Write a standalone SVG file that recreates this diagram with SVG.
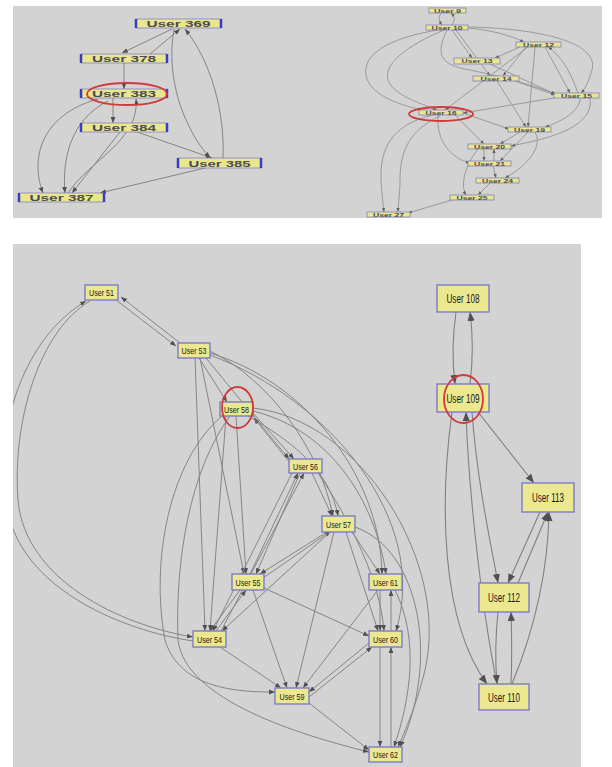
<svg xmlns="http://www.w3.org/2000/svg" width="612" height="767" viewBox="0 0 612 767">
<style>
.panel{fill:#d3d3d3}
.e{fill:none;stroke:#858585;stroke-width:1}
.et{fill:none;stroke:#8c8c8c;stroke-width:0.8}
.eb{fill:none;stroke:#808080;stroke-width:1.1}
.n{fill:#e9e68e;stroke:#8080c0;stroke-width:0.8}
.side{stroke:#3a3ac8;stroke-width:2.5}
.nb{fill:#ebe890;stroke:#7c7cc8;stroke-width:1.4}
.tl{font-family:"Liberation Sans",Arial,sans-serif;font-size:9px;font-weight:bold;fill:#4a4a5a;text-anchor:middle}
.tr{font-family:"Liberation Sans",Arial,sans-serif;font-size:5px;font-weight:bold;fill:#4a4a5a;text-anchor:middle}
.tb{font-family:"Liberation Sans",Arial,sans-serif;font-size:9px;fill:#1a1a1a;text-anchor:middle}
.tB{font-family:"Liberation Sans",Arial,sans-serif;font-size:12px;fill:#1a1a1a;text-anchor:middle}
.red{fill:none;stroke:#d03a3a;stroke-width:1.8}
</style>
<defs>
<marker id="a" viewBox="0 0 10 10" refX="10" refY="5" markerWidth="6" markerHeight="6" markerUnits="userSpaceOnUse" orient="auto"><path d="M0,1 L10,5 L0,9z" fill="#505050"/></marker>
<marker id="s" viewBox="0 0 10 10" refX="10" refY="5" markerWidth="4" markerHeight="4" markerUnits="userSpaceOnUse" orient="auto"><path d="M0,1 L10,5 L0,9z" fill="#606060"/></marker>
<marker id="b" viewBox="0 0 10 10" refX="10" refY="5" markerWidth="9" markerHeight="9" markerUnits="userSpaceOnUse" orient="auto"><path d="M0,1 L10,5 L0,9z" fill="#505050"/></marker>
<clipPath id="cb"><rect x="13" y="244" width="568" height="523"/></clipPath>
<clipPath id="ct"><rect x="13" y="6" width="589" height="212"/></clipPath>
</defs>
<rect width="612" height="767" fill="#ffffff"/>
<rect class="panel" x="13" y="6" width="589" height="212"/>
<rect class="panel" x="13" y="244" width="568" height="523"/>

<!-- top-left connectors -->
<g id="connectors-topleft" clip-path="url(#ct)">
<path class="e" marker-end="url(#a)" d="M172,29 L122,53"/>
<path class="e" marker-end="url(#a)" d="M150,54 L180,29"/>
<path class="e" marker-end="url(#a)" d="M124,63 L124,89"/>
<path class="e" marker-end="url(#a)" d="M113,98 L113,123"/>
<path class="e" marker-end="url(#a)" d="M68,193 C 90,160 140,140 136,99"/>
<path class="e" marker-end="url(#a)" d="M98,99 C 40,115 30,160 43,193"/>
<path class="e" marker-end="url(#a)" d="M108,101 C 70,120 62,160 65,193"/>
<path class="e" marker-end="url(#a)" d="M120,132 L72,193"/>
<path class="e" marker-end="url(#a)" d="M137,132 L212,158"/>
<path class="e" marker-end="url(#a)" d="M205,168 L100,193"/>
<path class="e" marker-end="url(#a)" d="M174,29 C 165,80 185,130 210,158"/>
<path class="e" marker-end="url(#a)" d="M223,158 C 225,110 210,60 185,29"/>
</g>

<!-- top-right connectors -->
<g id="connectors-topright" clip-path="url(#ct)">
<path class="et" marker-end="url(#s)" d="M441,13 C 438,18 439,21 442,25"/>
<path class="et" marker-end="url(#s)" d="M452,25 C 455,20 455,17 451,13"/>
<path class="et" marker-end="url(#s)" d="M438,30 C 400,36 362,50 366,75 C 369,95 400,105 422,110"/>
<path class="et" marker-end="url(#s)" d="M444,30 C 420,40 382,60 388,80 C 393,95 420,103 437,110"/>
<path class="et" marker-end="url(#s)" d="M452,30 L472,58"/>
<path class="et" marker-end="url(#s)" d="M456,30 L490,76"/>
<path class="et" marker-end="url(#s)" d="M468,28 C 490,30 510,35 524,42"/>
<path class="et" marker-end="url(#s)" d="M468,27 C 530,28 600,40 592,70 C 588,84 584,90 581,93"/>
<path class="et" marker-end="url(#s)" d="M447,30 C 435,55 440,65 470,70 C 510,78 540,88 556,94"/>
<path class="et" marker-end="url(#s)" d="M520,47 L495,58"/>
<path class="et" marker-end="url(#s)" d="M526,47 L503,76"/>
<path class="et" marker-end="url(#s)" d="M528,47 L445,110"/>
<path class="et" marker-end="url(#s)" d="M535,47 L528,127"/>
<path class="et" marker-end="url(#s)" d="M545,47 L570,93"/>
<path class="et" marker-end="url(#s)" d="M578,93 C 570,70 560,55 548,47"/>
<path class="et" marker-end="url(#s)" d="M490,64 L555,94"/>
<path class="et" marker-end="url(#s)" d="M515,81 L555,95"/>
<path class="et" marker-end="url(#s)" d="M497,81 L526,127"/>
<path class="et" marker-end="url(#s)" d="M554,98 L463,113"/>
<path class="et" marker-end="url(#s)" d="M580,98 C 580,112 560,122 545,127"/>
<path class="et" marker-end="url(#s)" d="M590,98 C 595,130 540,140 511,146"/>
<path class="et" marker-end="url(#s)" d="M463,113 L509,129"/>
<path class="et" marker-end="url(#s)" d="M455,115 L484,144"/>
<path class="et" marker-end="url(#s)" d="M438,115 C 436,140 450,158 470,163"/>
<path class="et" marker-end="url(#s)" d="M433,115 C 390,125 380,150 381,180 C 382,195 383,205 384,212"/>
<path class="et" marker-end="url(#s)" d="M440,116 C 410,130 400,150 400,180 C 400,195 398,205 398,212"/>
<path class="et" marker-end="url(#s)" d="M520,132 L500,144"/>
<path class="et" marker-end="url(#s)" d="M528,132 L500,161"/>
<path class="et" marker-end="url(#s)" d="M535,132 C 545,150 520,170 505,178"/>
<path class="et" marker-end="url(#s)" d="M484,149 L484,161"/>
<path class="et" marker-end="url(#s)" d="M494,161 L494,149"/>
<path class="et" marker-end="url(#s)" d="M493,166 L496,178"/>
<path class="et" marker-end="url(#s)" d="M478,149 C 465,165 460,185 466,195"/>
<path class="et" marker-end="url(#s)" d="M490,183 L478,195"/>
<path class="et" marker-end="url(#s)" d="M452,200 L408,213"/>
</g>

<!-- bottom connectors -->
<g id="connectors-bottom" clip-path="url(#cb)">
<path class="e" marker-end="url(#a)" d="M116,300 L176,346"/>
<path class="e" marker-end="url(#a)" d="M180,343 L121,297"/>
<path class="e" marker-end="url(#a)" d="M193,641 C 120,630 30,590 10,520 C -10,440 20,340 86,301"/>
<path class="e" marker-end="url(#a)" d="M90,301 C 40,330 12,420 18,500 C 25,580 120,625 193,637"/>
<path class="e" marker-end="url(#a)" d="M199,358 L227,402"/>
<path class="e" marker-end="url(#a)" d="M195,358 L205,631"/>
<path class="e" marker-end="url(#a)" d="M200,358 L244,574"/>
<path class="e" marker-end="url(#a)" d="M206,358 L289,459"/>
<path class="e" marker-end="url(#a)" d="M253,413 L294,459"/>
<path class="e" marker-end="url(#a)" d="M290,463 L254,418"/>
<path class="e" marker-end="url(#a)" d="M210,351 C 270,380 320,450 333,516"/>
<path class="e" marker-end="url(#a)" d="M210,353 C 300,380 380,470 382,574"/>
<path class="e" marker-end="url(#a)" d="M210,355 C 330,400 430,520 396,631"/>
<path class="e" marker-end="url(#a)" d="M253,408 C 360,420 450,560 425,670 C 415,710 405,730 398,747"/>
<path class="e" marker-end="url(#a)" d="M253,411 C 330,430 375,500 386,574"/>
<path class="e" marker-end="url(#a)" d="M248,416 C 290,440 330,470 338,516"/>
<path class="e" marker-end="url(#a)" d="M226,416 L210,631"/>
<path class="e" marker-end="url(#a)" d="M236,416 L246,574"/>
<path class="e" marker-end="url(#a)" d="M222,416 C 170,460 150,560 165,640 C 180,690 240,692 275,692"/>
<path class="e" marker-end="url(#a)" d="M230,416 C 190,470 175,560 178,640 C 185,700 300,735 369,752"/>
<path class="e" marker-end="url(#a)" d="M300,473 L256,574"/>
<path class="e" marker-end="url(#a)" d="M292,473 L213,631"/>
<path class="e" marker-end="url(#a)" d="M250,574 L298,473"/>
<path class="e" marker-end="url(#a)" d="M221,631 L304,473"/>
<path class="e" marker-end="url(#a)" d="M312,473 L332,516"/>
<path class="e" marker-end="url(#a)" d="M318,473 C 350,520 380,580 384,631"/>
<path class="e" marker-end="url(#a)" d="M327,532 L260,574"/>
<path class="e" marker-end="url(#a)" d="M263,578 L331,531"/>
<path class="e" marker-end="url(#a)" d="M330,532 L222,631"/>
<path class="e" marker-end="url(#a)" d="M352,532 L380,574"/>
<path class="e" marker-end="url(#a)" d="M346,532 L378,631"/>
<path class="e" marker-end="url(#a)" d="M334,532 L296,688"/>
<path class="e" marker-end="url(#a)" d="M355,527 C 420,550 440,660 400,747"/>
<path class="e" marker-end="url(#a)" d="M240,590 L210,631"/>
<path class="e" marker-end="url(#a)" d="M216,631 L246,590"/>
<path class="e" marker-end="url(#a)" d="M264,588 L369,636"/>
<path class="e" marker-end="url(#a)" d="M253,590 L287,688"/>
<path class="e" marker-end="url(#a)" d="M220,647 L281,688"/>
<path class="e" marker-end="url(#a)" d="M378,590 L303,688"/>
<path class="e" marker-end="url(#a)" d="M369,643 L309,692"/>
<path class="e" marker-end="url(#a)" d="M309,697 L372,647"/>
<path class="e" marker-end="url(#a)" d="M380,590 L380,631"/>
<path class="e" marker-end="url(#a)" d="M391,631 L391,590"/>
<path class="e" marker-end="url(#a)" d="M380,647 L380,747"/>
<path class="e" marker-end="url(#a)" d="M391,747 L391,647"/>
<path class="e" marker-end="url(#a)" d="M395,590 C 420,640 410,700 394,747"/>
<path class="e" marker-end="url(#a)" d="M309,703 L369,750"/>
<!-- right cluster -->
<path class="eb" marker-end="url(#b)" d="M456,312 C 452,340 452,360 455,384"/>
<path class="eb" marker-end="url(#b)" d="M470,384 C 473,360 473,335 470,312"/>
<path class="eb" marker-end="url(#b)" d="M478,412 L534,483"/>
<path class="eb" marker-end="url(#b)" d="M452,412 C 440,500 440,620 487,684"/>
<path class="eb" marker-end="url(#b)" d="M472,412 C 477,480 490,540 498,583"/>
<path class="eb" marker-end="url(#b)" d="M497,684 C 480,600 468,480 466,412"/>
<path class="eb" marker-end="url(#b)" d="M540,512 L508,583"/>
<path class="eb" marker-end="url(#b)" d="M518,583 L548,512"/>
<path class="eb" marker-end="url(#b)" d="M512,684 C 530,640 548,580 549,512"/>
<path class="eb" marker-end="url(#b)" d="M498,612 C 495,640 495,660 497,684"/>
<path class="eb" marker-end="url(#b)" d="M511,684 C 512,660 512,640 511,612"/>
</g>

<!-- top-left nodes -->
<g id="n369"><rect class="n" x="136" y="19" width="85" height="9"/><line class="side" x1="136" y1="19" x2="136" y2="28"/><line class="side" x1="221" y1="19" x2="221" y2="28"/><text class="tl" x="178.5" y="27" textLength="64" lengthAdjust="spacingAndGlyphs">User 369</text></g>
<g id="n378"><rect class="n" x="81" y="54" width="86" height="9"/><line class="side" x1="81" y1="54" x2="81" y2="63"/><line class="side" x1="167" y1="54" x2="167" y2="63"/><text class="tl" x="124" y="62" textLength="64" lengthAdjust="spacingAndGlyphs">User 378</text></g>
<g id="n383"><rect class="n" x="81" y="89" width="86" height="9"/><line class="side" x1="81" y1="89" x2="81" y2="98"/><line class="side" x1="167" y1="89" x2="167" y2="98"/><text class="tl" x="124" y="97" textLength="64" lengthAdjust="spacingAndGlyphs">User 383</text><ellipse class="red" cx="127" cy="94" rx="40" ry="11"/></g>
<g id="n384"><rect class="n" x="81" y="123" width="86" height="9"/><line class="side" x1="81" y1="123" x2="81" y2="132"/><line class="side" x1="167" y1="123" x2="167" y2="132"/><text class="tl" x="124" y="131" textLength="64" lengthAdjust="spacingAndGlyphs">User 384</text></g>
<g id="n385"><rect class="n" x="178" y="158" width="83" height="10"/><line class="side" x1="178" y1="158" x2="178" y2="168"/><line class="side" x1="261" y1="158" x2="261" y2="168"/><text class="tl" x="219.5" y="166.5" textLength="62" lengthAdjust="spacingAndGlyphs">User 385</text></g>
<g id="n387"><rect class="n" x="19" y="193" width="85" height="9"/><line class="side" x1="19" y1="193" x2="19" y2="202"/><line class="side" x1="104" y1="193" x2="104" y2="202"/><text class="tl" x="61.5" y="201" textLength="64" lengthAdjust="spacingAndGlyphs">User 387</text></g>

<!-- top-right nodes -->
<g id="n9"><rect class="n" x="429" y="8" width="37" height="5"/><text class="tr" x="447.5" y="12.5" textLength="27" lengthAdjust="spacingAndGlyphs">User 9</text></g>
<g id="n10"><rect class="n" x="426" y="25" width="42" height="5"/><text class="tr" x="447" y="29.5" textLength="31" lengthAdjust="spacingAndGlyphs">User 10</text></g>
<g id="n12"><rect class="n" x="516" y="42" width="45" height="5"/><text class="tr" x="538.5" y="46.5" textLength="31" lengthAdjust="spacingAndGlyphs">User 12</text></g>
<g id="n13"><rect class="n" x="454" y="58" width="46" height="6"/><text class="tr" x="477" y="63" textLength="31" lengthAdjust="spacingAndGlyphs">User 13</text></g>
<g id="n14"><rect class="n" x="473" y="76" width="46" height="5"/><text class="tr" x="496" y="80.5" textLength="31" lengthAdjust="spacingAndGlyphs">User 14</text></g>
<g id="n15"><rect class="n" x="554" y="93" width="45" height="5"/><text class="tr" x="576.5" y="97.5" textLength="31" lengthAdjust="spacingAndGlyphs">User 15</text></g>
<g id="n16"><rect class="n" x="419" y="110" width="44" height="5"/><text class="tr" x="441" y="114.5" textLength="31" lengthAdjust="spacingAndGlyphs">User 16</text><ellipse class="red" cx="441" cy="114" rx="32" ry="7"/></g>
<g id="n19"><rect class="n" x="508" y="127" width="43" height="5"/><text class="tr" x="529.5" y="131.5" textLength="31" lengthAdjust="spacingAndGlyphs">User 19</text></g>
<g id="n20"><rect class="n" x="468" y="144" width="43" height="5"/><text class="tr" x="489.5" y="148.5" textLength="31" lengthAdjust="spacingAndGlyphs">User 20</text></g>
<g id="n21"><rect class="n" x="468" y="161" width="43" height="5"/><text class="tr" x="489.5" y="165.5" textLength="31" lengthAdjust="spacingAndGlyphs">User 21</text></g>
<g id="n24"><rect class="n" x="476" y="178" width="43" height="5"/><text class="tr" x="497.5" y="182.5" textLength="31" lengthAdjust="spacingAndGlyphs">User 24</text></g>
<g id="n25"><rect class="n" x="450" y="195" width="44" height="5"/><text class="tr" x="472" y="199.5" textLength="31" lengthAdjust="spacingAndGlyphs">User 25</text></g>
<g id="n27"><rect class="n" x="367" y="212" width="43" height="5"/><text class="tr" x="388.5" y="216.5" textLength="31" lengthAdjust="spacingAndGlyphs">User 27</text></g>

<!-- bottom-left nodes -->
<g id="n51"><rect class="nb" x="85" y="285" width="33" height="15"/><text class="tb" x="101.5" y="296" textLength="25" lengthAdjust="spacingAndGlyphs">User 51</text></g>
<g id="n53"><rect class="nb" x="178" y="343" width="32" height="15"/><text class="tb" x="194" y="354" textLength="25" lengthAdjust="spacingAndGlyphs">User 53</text></g>
<g id="n58"><rect class="nb" x="220" y="402" width="33" height="14"/><text class="tb" x="236.5" y="412.5" textLength="25" lengthAdjust="spacingAndGlyphs">User 58</text><ellipse class="red" cx="237.5" cy="407.5" rx="15.5" ry="20.5"/></g>
<g id="n56"><rect class="nb" x="289" y="459" width="33" height="14"/><text class="tb" x="305.5" y="469.5" textLength="25" lengthAdjust="spacingAndGlyphs">User 56</text></g>
<g id="n57"><rect class="nb" x="322" y="516" width="33" height="16"/><text class="tb" x="338.5" y="527.5" textLength="25" lengthAdjust="spacingAndGlyphs">User 57</text></g>
<g id="n55"><rect class="nb" x="232" y="574" width="32" height="16"/><text class="tb" x="248" y="585.5" textLength="25" lengthAdjust="spacingAndGlyphs">User 55</text></g>
<g id="n61"><rect class="nb" x="369" y="574" width="33" height="16"/><text class="tb" x="385.5" y="585.5" textLength="25" lengthAdjust="spacingAndGlyphs">User 61</text></g>
<g id="n54"><rect class="nb" x="193" y="631" width="33" height="16"/><text class="tb" x="209.5" y="642.5" textLength="25" lengthAdjust="spacingAndGlyphs">User 54</text></g>
<g id="n60"><rect class="nb" x="369" y="631" width="33" height="16"/><text class="tb" x="385.5" y="642.5" textLength="25" lengthAdjust="spacingAndGlyphs">User 60</text></g>
<g id="n59"><rect class="nb" x="275" y="688" width="34" height="16"/><text class="tb" x="292" y="699.5" textLength="25" lengthAdjust="spacingAndGlyphs">User 59</text></g>
<g id="n62"><rect class="nb" x="369" y="747" width="33" height="15"/><text class="tb" x="385.5" y="758" textLength="25" lengthAdjust="spacingAndGlyphs">User 62</text></g>

<!-- bottom-right nodes -->
<g id="n108"><rect class="nb" x="437" y="285" width="52" height="27"/><text class="tB" x="463" y="303" textLength="33" lengthAdjust="spacingAndGlyphs">User 108</text></g>
<g id="n109"><rect class="nb" x="437" y="384" width="52" height="28"/><text class="tB" x="463" y="402.5" textLength="33" lengthAdjust="spacingAndGlyphs">User 109</text><ellipse class="red" cx="463.5" cy="399" rx="19.5" ry="24"/></g>
<g id="n113"><rect class="nb" x="522" y="483" width="52" height="29"/><text class="tB" x="548" y="502" textLength="32" lengthAdjust="spacingAndGlyphs">User 113</text></g>
<g id="n112"><rect class="nb" x="479" y="583" width="50" height="29"/><text class="tB" x="504" y="602" textLength="32" lengthAdjust="spacingAndGlyphs">User 112</text></g>
<g id="n110"><rect class="nb" x="479" y="684" width="50" height="26"/><text class="tB" x="504" y="701.5" textLength="32" lengthAdjust="spacingAndGlyphs">User 110</text></g>
</svg>
